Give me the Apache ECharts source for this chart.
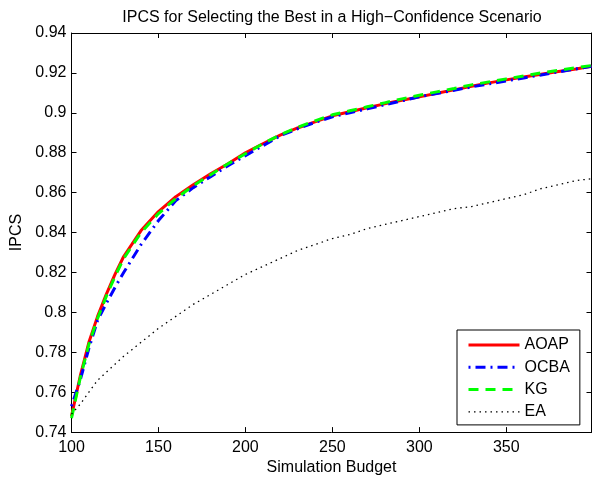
<!DOCTYPE html>
<html>
<head>
<meta charset="utf-8">
<script src="https://cdn.jsdelivr.net/npm/echarts@6/dist/echarts.min.js"></script>
<style>
html,body{margin:0;padding:0;background:#fff;}
#chart{width:592px;height:481px;}
</style>
</head>
<body>
<div id="chart"></div>
<script>
var budget = [100,105,110,115,120,125,130,140,150,160,170,180,190,200,210,220,230,240,250,260,270,280,290,300,310,320,330,340,350,360,370,380,390,399];
var aoap = [0.748,0.768,0.785,0.798,0.809,0.819,0.828,0.841,0.8505,0.858,0.864,0.8695,0.8745,0.880,0.8845,0.8888,0.8924,0.8955,0.8985,0.9005,0.9025,0.9045,0.9063,0.908,0.9098,0.9115,0.9133,0.915,0.9165,0.918,0.9193,0.9207,0.922,0.9233];
var ocba = [0.753,0.766,0.782,0.796,0.8045,0.8125,0.820,0.834,0.846,0.856,0.8625,0.868,0.8735,0.8785,0.8835,0.8885,0.892,0.8952,0.898,0.900,0.902,0.904,0.906,0.908,0.9097,0.9113,0.913,0.9145,0.916,0.9175,0.919,0.9205,0.922,0.9233];
var kg = [0.747,0.767,0.784,0.797,0.808,0.818,0.827,0.840,0.8495,0.857,0.8635,0.869,0.8745,0.8795,0.8845,0.889,0.8927,0.896,0.899,0.901,0.903,0.905,0.907,0.9088,0.9105,0.9122,0.914,0.9155,0.917,0.9185,0.920,0.9213,0.9226,0.9237];
var ea = [0.749,0.754,0.760,0.766,0.770,0.774,0.778,0.785,0.792,0.798,0.804,0.809,0.814,0.819,0.823,0.827,0.831,0.834,0.837,0.839,0.842,0.844,0.846,0.848,0.850,0.852,0.853,0.855,0.857,0.859,0.862,0.864,0.866,0.867];
var seriesNames = ['AOAP','OCBA','KG','EA'];
var titleText = 'IPCS for Selecting the Best in a High\u2212Confidence Scenario';
var xName = 'Simulation Budget';
var yName = 'IPCS';

function pairs(ys){ return budget.map(function(x,i){ return [x, ys[i]]; }); }
var FONT = '"Liberation Sans", Arial, sans-serif';
var chart = echarts.init(document.getElementById('chart'), null, {renderer:'canvas'});
var axisBase = {
  axisLine:{show:true, onZero:false, lineStyle:{color:'#000', width:1}},
  axisTick:{show:true, inside:true, length:5, lineStyle:{color:'#000', width:1}},
  splitLine:{show:false}
};
function xa(extra){ return Object.assign({type:'value', min:100, max:399, interval:50}, JSON.parse(JSON.stringify(axisBase)), extra); }
function ya(extra){ return Object.assign({type:'value', min:0.74, max:0.94, interval:0.02}, JSON.parse(JSON.stringify(axisBase)), extra); }
var legendWidths = [3,3,3,1.3];

chart.setOption({
  animation:false,
  backgroundColor:'#fff',
  title:{text:titleText, left:327, top:5, textAlign:'center',
    textStyle:{fontFamily:FONT, fontSize:16, fontWeight:'normal', color:'#000'}},
  grid:{left:71.5, right:0.5, top:33, bottom:44},
  legend:{
    orient:'vertical', left:457, top:330,
    data:seriesNames.map(function(n,i){ return {name:n, lineStyle:{width:legendWidths[i]}}; }),
    backgroundColor:'#fff', borderColor:'#000', borderWidth:1,
    padding:[7,10,5,10], itemGap:6.3, itemWidth:51, itemHeight:14,
    itemStyle:{color:'rgba(0,0,0,0)', borderColor:'rgba(0,0,0,0)', borderWidth:0, opacity:0},
    textStyle:{fontFamily:FONT, fontSize:16, color:'#000'}
  },
  xAxis:[
    xa({position:'bottom', name:xName, nameLocation:'middle', nameGap:22,
      nameTextStyle:{fontFamily:FONT, fontSize:16, color:'#000'},
      axisLabel:{show:true, margin:7, showMaxLabel:false, fontFamily:FONT, fontSize:16, color:'#000'}}),
    xa({position:'top', axisLabel:{show:false}})
  ],
  yAxis:[
    ya({position:'left', name:yName, nameLocation:'middle', nameGap:40, nameRotate:90,
      nameTextStyle:{fontFamily:FONT, fontSize:16, color:'#000'},
      axisLabel:{show:true, margin:5, fontFamily:FONT, fontSize:16, color:'#000',
        formatter:function(v){ return String(+v.toFixed(2)); }}}),
    ya({position:'right', axisLabel:{show:false}})
  ],
  series:[
    {name:'AOAP', type:'line', data:pairs(aoap), showSymbol:false, symbol:'none',
      lineStyle:{color:'#ff0000', width:3, type:'solid'}, itemStyle:{color:'#ff0000'}},
    {name:'OCBA', type:'line', data:pairs(ocba), showSymbol:false, symbol:'none',
      lineStyle:{color:'#0000ff', width:3, type:[2,5,10,5]}, itemStyle:{color:'#0000ff'}},
    {name:'KG', type:'line', data:pairs(kg), showSymbol:false, symbol:'none',
      lineStyle:{color:'#00ff00', width:3, type:[10,7]}, itemStyle:{color:'#00ff00'}},
    {name:'EA', type:'line', data:pairs(ea), showSymbol:false, symbol:'none',
      lineStyle:{color:'#000', width:1.3, type:[1.5,4]}, itemStyle:{color:'#000'}}
  ]
});
</script>
</body>
</html>
